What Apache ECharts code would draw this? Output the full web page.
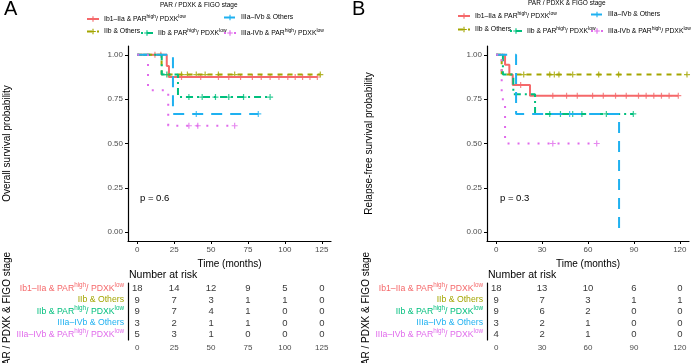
<!DOCTYPE html>
<html>
<head>
<meta charset="utf-8">
<script src="https://cdn.jsdelivr.net/npm/echarts@6/dist/echarts.min.js"></script>
<style>
  html, body { margin: 0; padding: 0; background: #fff; }
  #chart { width: 694px; height: 363px; }
</style>
</head>
<body>
<div id="chart"></div>
<script>
// groups (strata)
const groupKeys = ['Ib1–IIa & PAR/PDXK', 'IIb & Others', 'IIb & PAR/PDXK', 'IIIa–IVb & Others', 'IIIa–IVb & PAR/PDXK'];
const legendParts = [['Ib1–IIa & PAR', 'high', '/ PDXK', 'low'], ['IIb & Others'], ['IIb & PAR', 'high', '/ PDXK', 'low'], ['IIIa–IVb & Others'], ['IIIa-IVb & PAR', 'high', '/ PDXK', 'low']];
const rowParts = [['Ib1–IIa & PAR', 'high', '/ PDXK', 'low'], ['IIb & Others'], ['IIb & PAR', 'high', '/ PDXK', 'low'], ['IIIa–IVb & Others'], ['IIIa–IVb & PAR', 'high', '/ PDXK', 'low']];
const colors = ['#F5686A', '#A3A500', '#00BF7D', '#1FB1F0', '#E06BEB'];
const dashes = ['solid', [5, 5], [2, 4, 7, 4], [11, 8], [2, 8]];

// A: overall survival
const osEventTimes = [[20, 21.5], [16.5], [16.6, 27.6], [24.2], [7.3, 21]];
const osSurv = [[0.9375, 0.875], [0.889], [0.889, 0.762], [0.667], [0.8, 0.6]];
const osEnd = [122, 124, 90, 82, 66];
const osCensor = [
  [12, 16, 30, 43, 55, 62, 70, 78, 84, 90, 96, 102, 107, 112, 117, 122],
  [21, 30, 34, 40, 46, 55, 66, 124],
  [20, 35, 44, 53, 62, 72, 90],
  [40, 82],
  [35, 41, 66]
];
const osTicks = [0, 25, 50, 75, 100, 125];
const osRisk = [[18, 14, 12, 9, 5, 0], [9, 7, 3, 1, 1, 0], [9, 7, 4, 1, 0, 0], [3, 2, 1, 1, 0, 0], [5, 3, 1, 0, 0, 0]];

// B: relapse-free survival
const rfsEventTimes = [[5.8, 8.6, 10.8, 22.1], [3.6], [4.4, 11.2, 25.4], [13, 80.3], [3.6, 5.8]];
const rfsSurv = [[0.944, 0.889, 0.83, 0.77], [0.889], [0.889, 0.778, 0.667], [0.667, 0], [0.75, 0.5]];
const rfsEnd = [119, 124.7, 89.6, 80.3, 65.7];
const rfsCensor = [
  [16, 37, 46, 53, 63, 70, 78, 85, 93, 98, 103, 108, 113, 119],
  [18, 35, 38, 41, 50, 67, 80, 124.7],
  [35, 42, 50, 56, 72, 89.6],
  [48],
  [37, 65.7]
];
const rfsTicks = [0, 30, 60, 90, 120];
const rfsRisk = [[18, 13, 10, 6, 0], [9, 7, 3, 1, 1], [9, 6, 2, 0, 0], [3, 2, 1, 0, 0], [4, 2, 1, 0, 0]];

const probTicks = [0, 0.25, 0.5, 0.75, 1];
const pValues = ['p = 0.6', 'p = 0.3'];

const FONT = 'Liberation Sans, Arial, sans-serif';
const plusPath = 'path://M4,0H6V4H10V6H6V10H4V6H0V4H4Z';

function richText(parts, tag) {
  if (parts.length === 1) return '{' + tag + '|' + parts[0] + '}';
  return '{' + tag + '|' + parts[0] + '}{' + tag + 's|' + parts[1] + '}{' + tag + '|' + parts[2] + '}{' + tag + 's|' + parts[3] + '}';
}

// legend rich styles
const legendRich = {
  l: { fontSize: 6.8, fontFamily: FONT, color: '#000' },
  ls: { fontSize: 5, fontFamily: FONT, color: '#000', padding: [0, 0, 5, 0] }
};
// row label rich styles
const rowRich = {};
colors.forEach((c, i) => {
  rowRich['r' + i] = { fontSize: 8.7, fontFamily: FONT, color: c };
  rowRich['r' + i + 's'] = { fontSize: 6.3, fontFamily: FONT, color: c, padding: [0, 0, 6, 0] };
});

function survAt(times, surv, t) {
  let s = 1;
  for (let i = 0; i < times.length; i++) if (times[i] <= t) s = surv[i];
  return s;
}

function kmPoints(times, surv, end) {
  const pts = [[0, 1]];
  times.forEach((t, i) => pts.push([t, surv[i]]));
  if (end > times[times.length - 1]) pts.push([end, surv[surv.length - 1]]);
  return pts;
}

const panels = [
  { times: osEventTimes, surv: osSurv, end: osEnd, cens: osCensor, ticks: osTicks, risk: osRisk, xmin: -6.25, xmax: 131.25 },
  { times: rfsEventTimes, surv: rfsSurv, end: rfsEnd, cens: rfsCensor, ticks: rfsTicks, risk: rfsRisk, xmin: -6, xmax: 126 }
];

const axisLineStyle = { color: '#000', width: 1.2 };
const grid = [
  { left: 128, top: 46, width: 203, height: 195, outerBoundsMode: 'none' },
  { left: 487, top: 46, width: 202, height: 195, outerBoundsMode: 'none' },
  { left: 128, top: 283, width: 203, height: 57, outerBoundsMode: 'none' },
  { left: 487, top: 283, width: 202, height: 57, outerBoundsMode: 'none' }
];

const xAxis = [];
const yAxis = [];
panels.forEach((p, k) => {
  xAxis[k] = {
    gridIndex: k, type: 'value', min: p.xmin, max: p.xmax,
    name: 'Time (months)', nameLocation: 'middle', nameGap: 12,
    nameTextStyle: { fontSize: 10, color: '#000', fontFamily: FONT },
    axisLine: { onZero: false, lineStyle: axisLineStyle },
    axisTick: { customValues: p.ticks, length: 3, lineStyle: { color: '#000' } },
    axisLabel: { customValues: p.ticks, fontSize: 8, color: '#4d4d4d', margin: 5, fontFamily: FONT },
    splitLine: { show: false }
  };
  yAxis[k] = {
    gridIndex: k, type: 'value', min: -0.05, max: 1.05,
    name: k === 0 ? 'Overall survival probability' : 'Relapse-free survival probability',
    nameLocation: 'middle', nameGap: k === 0 ? 116 : 113,
    nameTextStyle: { fontSize: 10, color: '#000', fontFamily: FONT },
    axisLine: { onZero: false, lineStyle: axisLineStyle },
    axisTick: { customValues: probTicks, length: 3, lineStyle: { color: '#000' } },
    axisLabel: { customValues: probTicks, fontSize: 8, color: '#4d4d4d', margin: 5, fontFamily: FONT, formatter: v => v.toFixed(2) },
    splitLine: { show: false }
  };
  xAxis[k + 2] = {
    gridIndex: k + 2, type: 'value', min: p.xmin, max: p.xmax,
    axisLine: { onZero: false, lineStyle: axisLineStyle },
    axisTick: { customValues: p.ticks, length: 3, lineStyle: { color: '#000' } },
    axisLabel: { customValues: p.ticks, fontSize: 8, color: '#4d4d4d', margin: 4, fontFamily: FONT },
    splitLine: { show: false }
  };
  yAxis[k + 2] = {
    gridIndex: k + 2, type: 'category', data: groupKeys, inverse: true,
    name: 'PAR / PDXK & FIGO stage', nameLocation: 'middle', nameGap: k === 0 ? 116 : 113,
    nameTextStyle: { fontSize: 10, color: '#000', fontFamily: FONT },
    axisLine: { onZero: false, lineStyle: axisLineStyle },
    axisTick: { alignWithLabel: true, interval: 0, length: 3, lineStyle: { color: '#000' } },
    axisLabel: { interval: 0, margin: 4, formatter: (v, i) => richText(rowParts[i], 'r' + i), rich: rowRich },
    splitLine: { show: false }
  };
});

const series = [];
panels.forEach((p, k) => {
  groupKeys.forEach((g, i) => {
    series.push({
      type: 'line', name: g, xAxisIndex: k, yAxisIndex: k, step: 'end',
      data: kmPoints(p.times[i], p.surv[i], p.end[i]),
      showSymbol: false, symbol: plusPath, symbolSize: 6,
      lineStyle: { color: colors[i], width: 2, type: dashes[i], cap: 'butt' },
      itemStyle: { color: colors[i] },
      silent: true
    });
  });
  groupKeys.forEach((g, i) => {
    series.push({
      type: 'scatter', name: g + ' censor', xAxisIndex: k, yAxisIndex: k,
      data: p.cens[i].map(t => [t, survAt(p.times[i], p.surv[i], t)]),
      symbol: plusPath, symbolSize: 6, itemStyle: { color: colors[i] }, silent: true
    });
  });
  const riskData = [];
  p.risk.forEach((row, i) => row.forEach((n, j) => riskData.push([p.ticks[j], groupKeys[i], n])));
  series.push({
    type: 'scatter', name: 'risk' + k, xAxisIndex: k + 2, yAxisIndex: k + 2,
    data: riskData, symbolSize: 1, itemStyle: { color: 'transparent' }, silent: true,
    label: { show: true, position: 'inside', formatter: q => q.value[2], fontSize: 9.5, color: '#000', fontFamily: FONT }
  });
});

// legends: one per item so the two-row layout matches
const legendPos = [
  [[86, 14], [86, 28], [140, 28], [223, 14], [223, 28]],
  [[457, 11], [457, 26], [509, 26], [590, 11], [590, 26]]
];
const legend = [];
legendPos.forEach(pos => {
  pos.forEach((xy, i) => {
    legend.push({
      data: [groupKeys[i]], left: xy[0], top: xy[1], padding: 0,
      itemWidth: 12, itemHeight: 7, selectedMode: false,
      formatter: () => richText(legendParts[i], 'l'),
      textStyle: { rich: legendRich }
    });
  });
});

const title = [
  { text: 'A', left: 4, top: -1, padding: 0, textStyle: { fontSize: 20, fontWeight: 'normal', color: '#000', fontFamily: FONT } },
  { text: 'B', left: 352, top: -1, padding: 0, textStyle: { fontSize: 20, fontWeight: 'normal', color: '#000', fontFamily: FONT } },
  { text: 'PAR / PDXK & FIGO stage', left: 160, top: 2, padding: 0, textStyle: { fontSize: 6.5, fontWeight: 'normal', color: '#000', fontFamily: FONT } },
  { text: 'PAR / PDXK & FIGO stage', left: 528, top: 0, padding: 0, textStyle: { fontSize: 6.5, fontWeight: 'normal', color: '#000', fontFamily: FONT } },
  { text: 'Number at risk', left: 129, top: 270, padding: 0, textStyle: { fontSize: 10.5, fontWeight: 'normal', color: '#000', fontFamily: FONT } },
  { text: 'Number at risk', left: 488, top: 270, padding: 0, textStyle: { fontSize: 10.5, fontWeight: 'normal', color: '#000', fontFamily: FONT } }
];

const chart = echarts.init(document.getElementById('chart'));
chart.setOption({
  backgroundColor: '#fff',
  animation: false,
  title, legend, grid, xAxis, yAxis, series,
  graphic: [
    { type: 'text', left: 140, top: 193, style: { text: pValues[0], fontSize: 9.5, fill: '#000', fontFamily: FONT } },
    { type: 'text', left: 500, top: 193, style: { text: pValues[1], fontSize: 9.5, fill: '#000', fontFamily: FONT } }
  ]
});
</script>
</body>
</html>
